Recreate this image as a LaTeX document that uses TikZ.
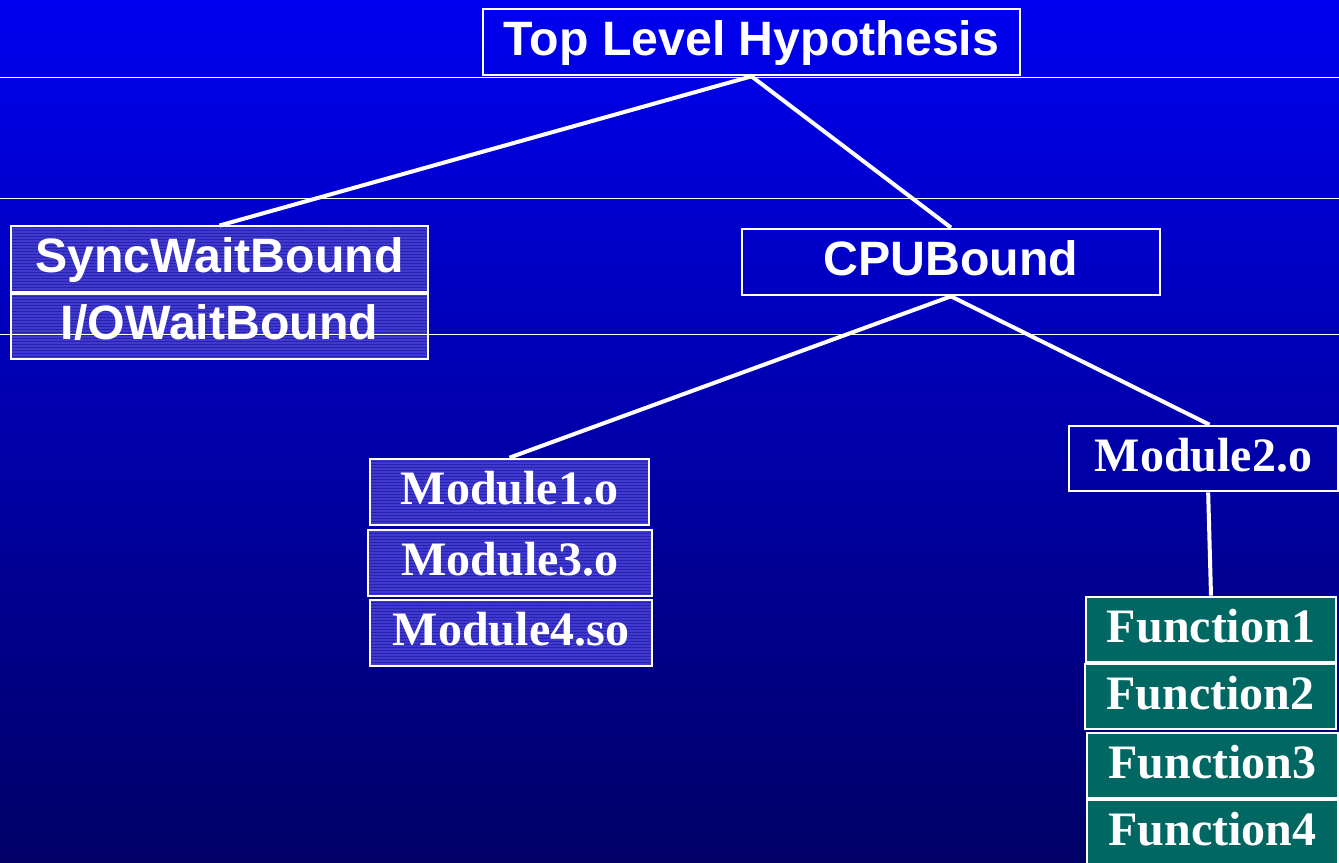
\documentclass[tikz,border=0pt]{standalone}
\usepackage{fontspec}
\setmainfont{Liberation Serif}
\setsansfont{Liberation Sans}
\usetikzlibrary{patterns.meta}
\definecolor{bgtop}{HTML}{0000F0}
\definecolor{bgbot}{HTML}{000066}
\definecolor{hatchbase}{HTML}{4038CF}
\definecolor{hatchline}{HTML}{2222A8}
\definecolor{funcfill}{HTML}{006763}
\tikzset{
  box/.style={draw=white, line width=2pt, inner sep=0pt, text=white},
  sansbox/.style={box, font=\sffamily\bfseries\fontsize{36.2}{40}\selectfont,
    text height=29pt, text depth=9pt},
  serifbox/.style={box, font=\rmfamily\bfseries\fontsize{36}{40}\selectfont,
    text height=28pt, text depth=8.6pt},
  hatched/.style={preaction={fill=hatchbase},
    pattern={Lines[angle=0,distance=2.25pt,line width=0.7pt]},
    pattern color=hatchline},
  funcbox/.style={serifbox, fill=funcfill},
  link/.style={white, line width=3pt},
  rule/.style={white, line width=0.75pt}
}
\begin{document}
\begin{tikzpicture}[x=0.75pt, y=-0.75pt]
  \useasboundingbox (0,0) rectangle (1339,863);
  \clip (0,0) rectangle (1339,863);
  \shade[top color=bgtop, bottom color=bgbot] (0,0) rectangle (1339,863);

  % hypothesis tree
  \node[sansbox, minimum width=537*0.75pt, minimum height=66*0.75pt] (top) at (751.5,42) {Top Level Hypothesis};
  \node[sansbox, hatched, minimum width=417*0.75pt, minimum height=66*0.75pt] (sync) at (219.5,259) {SyncWaitBound};
  \node[sansbox, hatched, minimum width=417*0.75pt, minimum height=65*0.75pt] (io) at (219.5,326.5) {I/OWaitBound};
  \node[sansbox, minimum width=418*0.75pt, minimum height=66*0.75pt] (cpu) at (951,262) {CPUBound};

  % modules
  \node[serifbox, hatched, minimum width=279*0.75pt, minimum height=66*0.75pt] (m1) at (509.5,492) {Module1.o};
  \node[serifbox, hatched, minimum width=284*0.75pt, minimum height=66*0.75pt] (m3) at (510,563) {Module3.o};
  \node[serifbox, hatched, minimum width=282*0.75pt, minimum height=66*0.75pt] (m4) at (511,633) {Module4.so};
  \node[serifbox, minimum width=269*0.75pt, minimum height=65*0.75pt] (m2) at (1203.5,458.5) {Module2.o};

  % functions
  \node[funcbox, minimum width=250*0.75pt, minimum height=65*0.75pt] (f1) at (1211,629.5) {Function1};
  \node[funcbox, minimum width=251*0.75pt, minimum height=65*0.75pt] (f2) at (1210.5,696.5) {Function2};
  \node[funcbox, minimum width=251*0.75pt, minimum height=65*0.75pt] (f3) at (1212.5,765.5) {Function3};
  \node[funcbox, minimum width=251*0.75pt, minimum height=66*0.75pt] (f4) at (1212.5,833) {Function4};

  % connectors
  \draw[link] (top.south) -- (sync.north);
  \draw[link] (top.south) -- (cpu.north);
  \draw[link] (cpu.south) -- (m1.north);
  \draw[link] (cpu.south) -- ([xshift=4.5pt]m2.north);
  \draw[link] ([xshift=3.5pt]m2.south) -- (f1.north);

  % horizontal guide rules
  \draw[rule] (0,78) -- (1339,78);
  \draw[rule] (0,199) -- (1339,199);
  \draw[rule] (0,334) -- (1339,334);
\end{tikzpicture}
\end{document}
